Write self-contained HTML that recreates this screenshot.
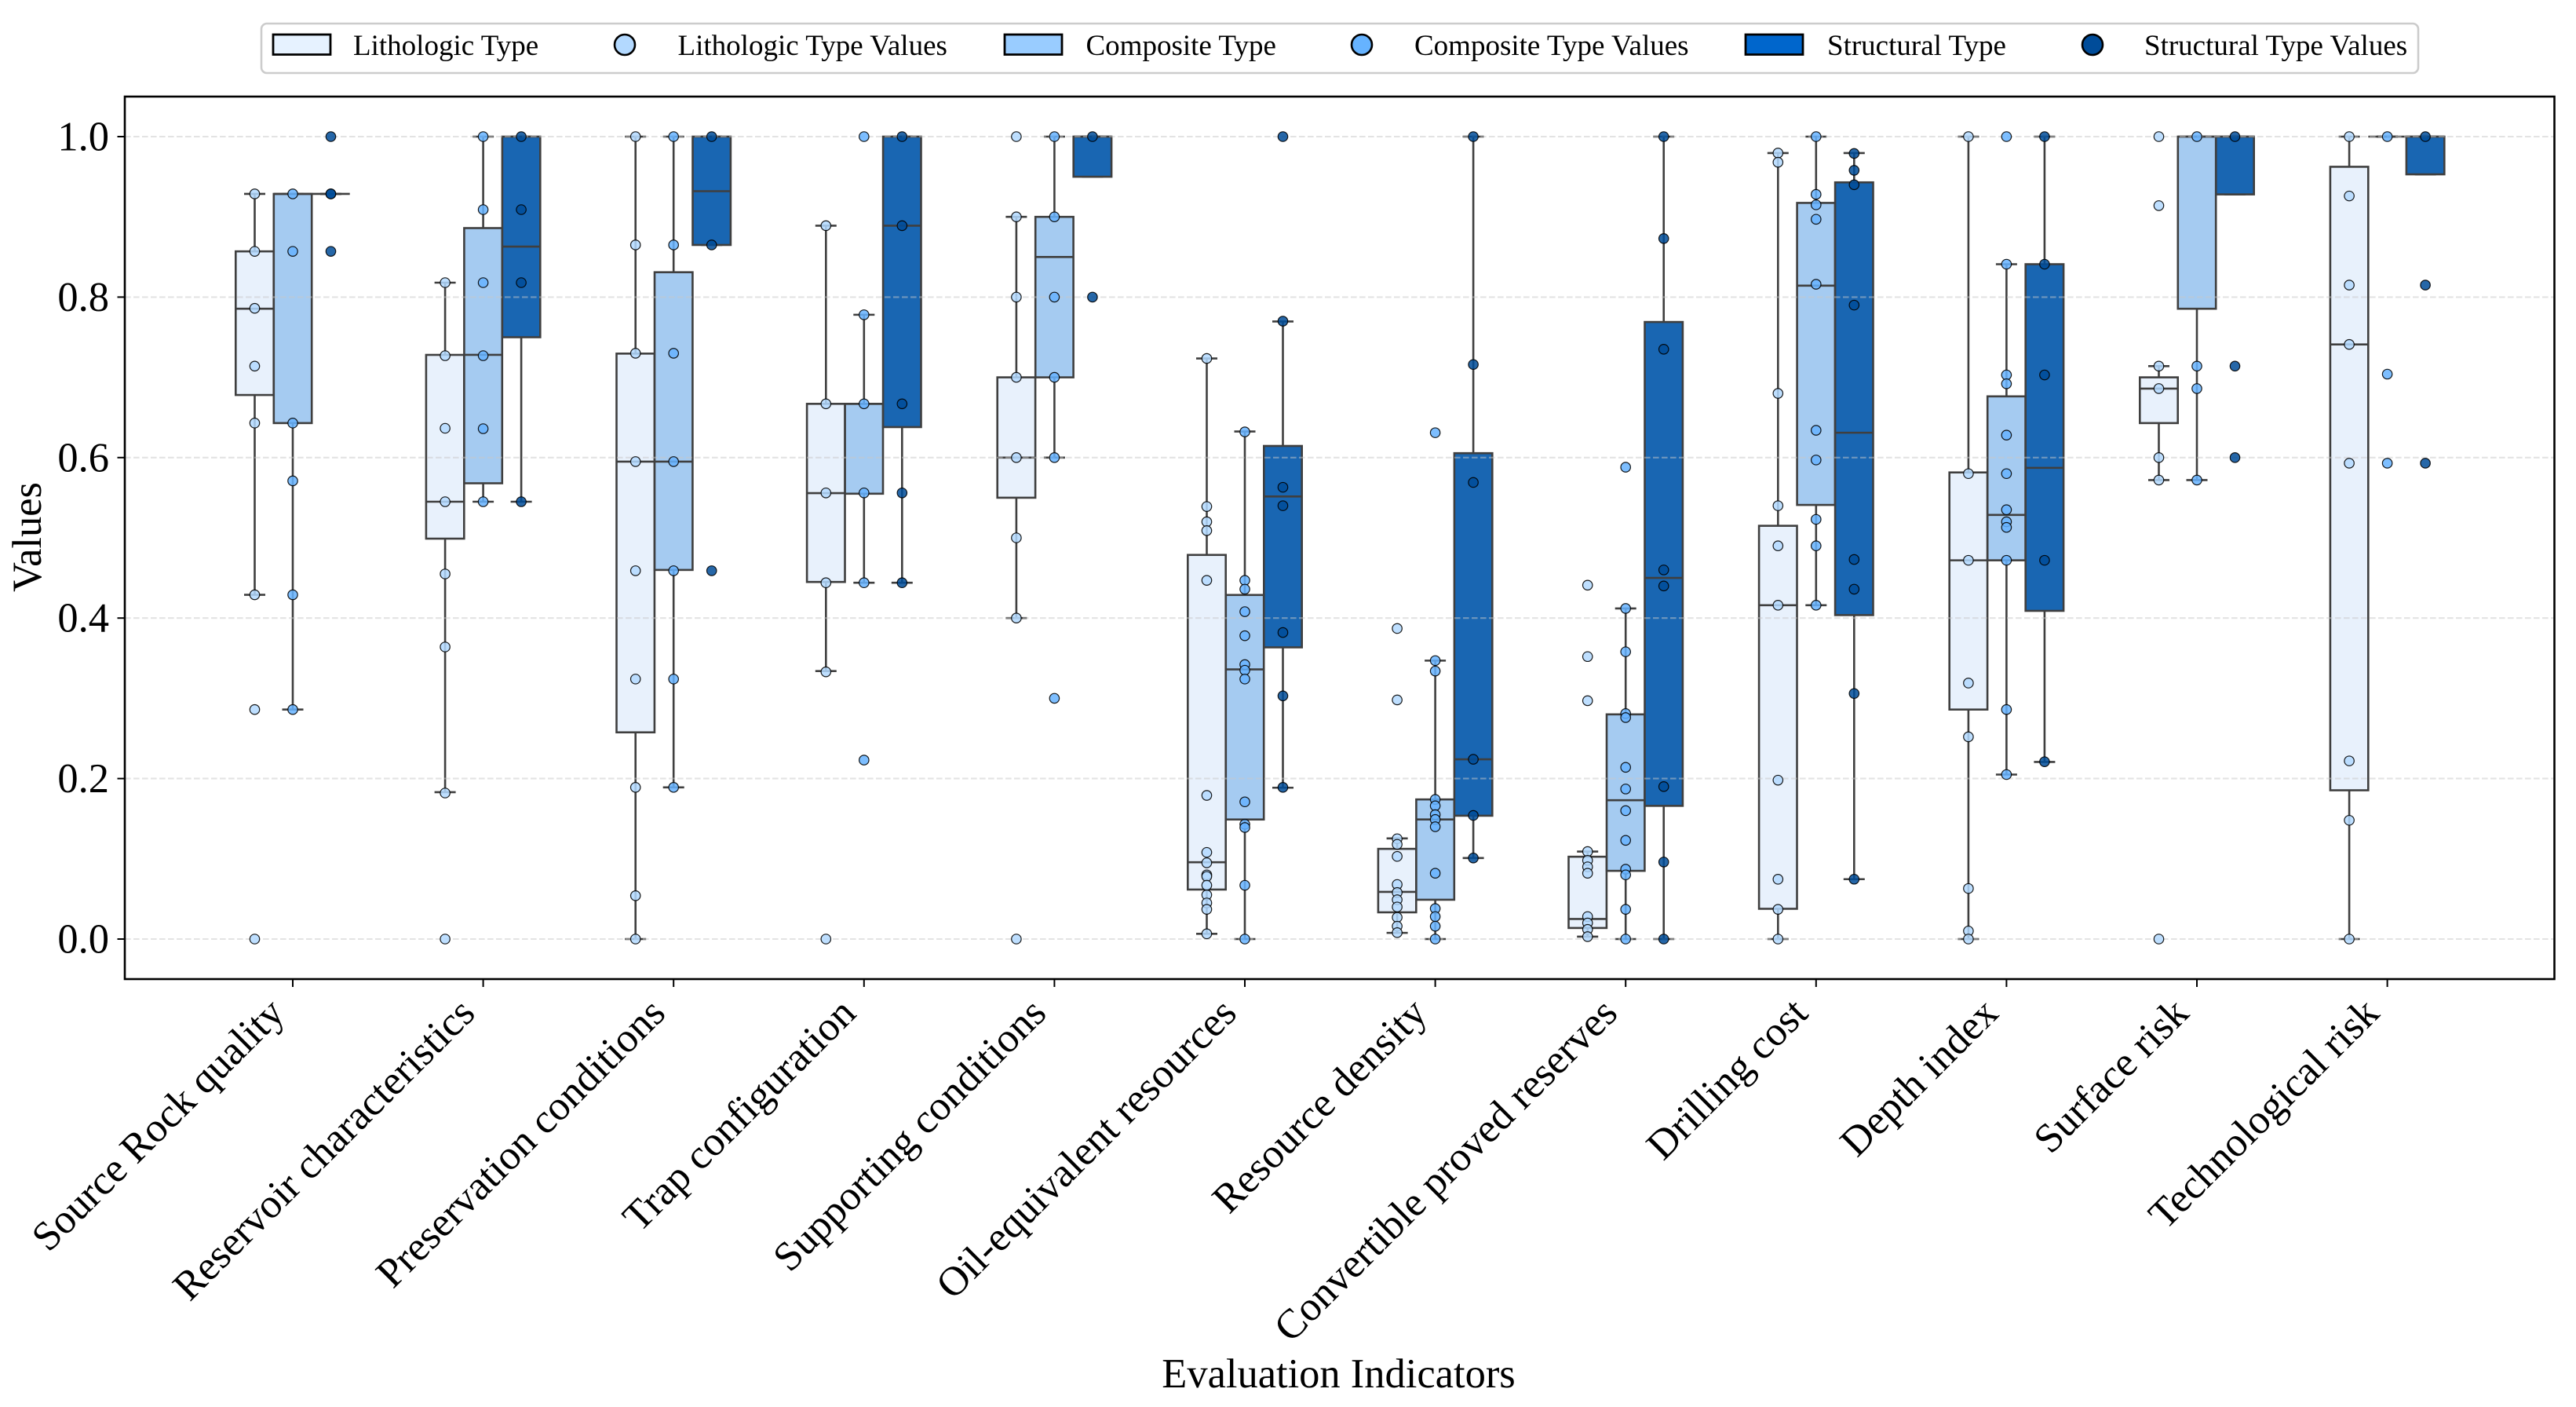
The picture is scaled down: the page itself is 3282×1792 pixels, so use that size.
<!DOCTYPE html>
<html lang="en">
<head>
<meta charset="utf-8">
<title>Evaluation indicators box plot</title>
<style>
html,body{margin:0;padding:0;background:#fff}
svg{display:block}
text{font-family:"Liberation Serif",serif;fill:#000}
</style>
</head>
<body>
<svg id="chart" xmlns="http://www.w3.org/2000/svg" width="3282" height="1792" viewBox="0 0 3282 1792">
  <rect x="0" y="0" width="3282" height="1792" fill="#fff"/>
  <g id="boxes"></g>
  <g id="gridTop"></g>
  <g id="points"></g>
  <rect x="159" y="123" width="3095.5" height="1124" fill="none" stroke="#000" stroke-width="2.6"/>
  <g id="axes"></g>
  <text x="1705.5" y="1767" font-size="52.5" text-anchor="middle">Evaluation Indicators</text>
  <text transform="translate(52 684) rotate(-90)" font-size="52.5" text-anchor="middle">Values</text>
  <g>
    <rect x="333" y="30" width="2748" height="63" rx="7" ry="7" fill="#fff" stroke="#ccc" stroke-width="2.6"/>
    <g>
      <rect x="348" y="44" width="73" height="25.5" fill="#e6f2ff" stroke="#000" stroke-width="2.8"/>
      <text x="450" y="70" font-size="37">Lithologic Type</text>
    </g>
    <g>
      <circle cx="796" cy="57" r="13" fill="#b3d9ff" stroke="#000" stroke-width="2.6"/>
      <text x="863.5" y="70" font-size="37">Lithologic Type Values</text>
    </g>
    <g>
      <rect x="1280" y="44" width="73" height="25.5" fill="#99ccff" stroke="#000" stroke-width="2.8"/>
      <text x="1383.5" y="70" font-size="37">Composite Type</text>
    </g>
    <g>
      <circle cx="1735" cy="57" r="13" fill="#66b3ff" stroke="#000" stroke-width="2.6"/>
      <text x="1802" y="70" font-size="37">Composite Type Values</text>
    </g>
    <g>
      <rect x="2224" y="44" width="73" height="25.5" fill="#0066cc" stroke="#000" stroke-width="2.8"/>
      <text x="2328" y="70" font-size="37">Structural Type</text>
    </g>
    <g>
      <circle cx="2666" cy="57" r="13" fill="#004c99" stroke="#000" stroke-width="2.6"/>
      <text x="2732" y="70" font-size="37">Structural Type Values</text>
    </g>
  </g>
</svg>
<script>
const categories = ["Source Rock quality","Reservoir characteristics","Preservation conditions","Trap configuration","Supporting conditions","Oil-equivalent resources","Resource density","Convertible proved reserves","Drilling cost","Depth index","Surface risk","Technological risk"];
const yTickValues = [0, 0.2, 0.4, 0.6, 0.8, 1.0];
const yTickLabels = ["0.0", "0.2", "0.4", "0.6", "0.8", "1.0"];

const lithoLow    = [0.429, 0.183, 0, 0.334, 0.4, 0.0065, 0.0077, 0.003, 0, 0, 0.572, 0];
const lithoQ1     = [0.678, 0.499, 0.2576, 0.445, 0.55, 0.0617, 0.0333, 0.0138, 0.0377, 0.286, 0.643, 0.1854];
const lithoMedian = [0.7855, 0.545, 0.595, 0.5557, 0.6, 0.0957, 0.0588, 0.025, 0.416, 0.472, 0.686, 0.741];
const lithoQ3     = [0.857, 0.728, 0.7296, 0.667, 0.7, 0.4787, 0.1124, 0.1026, 0.515, 0.5815, 0.7, 0.9624];
const lithoHigh   = [0.9286, 0.818, 1, 0.889, 0.9, 0.7235, 0.1254, 0.109, 0.9795, 1, 0.714, 1];
const lithoPoints = [
  [0.9286,0.857,0.786,0.714,0.643,0.429,0.286,0],
  [0.818,0.727,0.6365,0.545,0.455,0.364,0.182,0],
  [1,0.865,0.73,0.595,0.459,0.324,0.189,0.054,0],
  [0.889,0.667,0.556,0.444,0.333,0],
  [1,0.9,0.8,0.7,0.6,0.5,0.4,0],
  [0.7235,0.539,0.52,0.509,0.447,0.179,0.108,0.095,0.08,0.078,0.067,0.055,0.045,0.037,0.0065],
  [0.387,0.298,0.125,0.118,0.103,0.068,0.058,0.049,0.04,0.027,0.016,0.008],
  [0.441,0.352,0.297,0.109,0.098,0.09,0.082,0.028,0.02,0.012,0.003],
  [0.9795,0.968,0.68,0.54,0.49,0.416,0.198,0.0745,0.037,0],
  [1,0.58,0.472,0.319,0.252,0.063,0.01,0],
  [1,0.914,0.714,0.686,0.6,0.572,0],
  [1,0.926,0.815,0.741,0.593,0.222,0.148,0]
];

const compositeLow    = [0.286, 0.545, 0.189, 0.444, 0.6, 0, 0, 0, 0.416, 0.205, 0.572, 1];
const compositeQ1     = [0.643, 0.568, 0.46, 0.555, 0.7, 0.149, 0.049, 0.085, 0.541, 0.472, 0.7855, 1];
const compositeMedian = [0.9286, 0.728, 0.595, 0.667, 0.85, 0.336, 0.149, 0.173, 0.8143, 0.5286, 1, 1];
const compositeQ3     = [0.9286, 0.886, 0.831, 0.667, 0.9, 0.4288, 0.174, 0.28, 0.9174, 0.6763, 1, 1];
const compositeHigh   = [0.9286, 1, 1, 0.778, 1, 0.6325, 0.347, 0.412, 1, 0.841, 1, 1];
const compositePoints = [
  [0.9286,0.857,0.643,0.571,0.429,0.286],
  [1,0.909,0.818,0.727,0.636,0.545],
  [1,0.865,0.73,0.595,0.459,0.324,0.189],
  [1,0.778,0.667,0.556,0.444,0.223],
  [1,0.9,0.8,0.7,0.6,0.3],
  [0.632,0.447,0.436,0.408,0.378,0.342,0.335,0.324,0.171,0.143,0.139,0.067,0],
  [0.631,0.347,0.334,0.174,0.166,0.155,0.149,0.14,0.082,0.038,0.028,0.016,0],
  [0.588,0.412,0.358,0.281,0.276,0.214,0.187,0.16,0.123,0.087,0.08,0.037,0],
  [1,0.928,0.915,0.897,0.816,0.634,0.597,0.523,0.49,0.416],
  [1,0.841,0.703,0.692,0.628,0.58,0.535,0.52,0.513,0.472,0.286,0.205],
  [1,0.714,0.686,0.572],
  [1,0.704,0.593]
];

const structuralLow    = [0.9286, 0.545, 0.865, 0.444, 0.95, 0.1886, 0.101, 0, 0.0746, 0.2207, 0.928, 0.953];
const structuralQ1     = [0.9286, 0.75, 0.865, 0.638, 0.95, 0.3635, 0.1537, 0.166, 0.4037, 0.409, 0.928, 0.953];
const structuralMedian = [0.9286, 0.863, 0.932, 0.889, 1, 0.5516, 0.224, 0.45, 0.631, 0.5872, 1, 1];
const structuralQ3     = [0.9286, 1, 1, 1, 1, 0.6145, 0.6055, 0.769, 0.943, 0.841, 1, 1];
const structuralHigh   = [0.9286, 1, 1, 1, 1, 0.7696, 1, 1, 0.9795, 1, 1, 1];
const structuralPoints = [
  [1,0.9286,0.9286,0.857],
  [1,0.909,0.818,0.545],
  [1,0.865,0.459],
  [1,0.889,0.667,0.556,0.444],
  [1,0.8],
  [1,0.77,0.563,0.54,0.382,0.303,0.189],
  [1,0.716,0.569,0.224,0.154,0.101],
  [1,0.873,0.735,0.46,0.44,0.19,0.096,0],
  [0.979,0.958,0.94,0.79,0.473,0.436,0.306,0.0746],
  [1,0.841,0.703,0.472,0.221],
  [1,0.714,0.6],
  [1,0.815,0.593]
];

const seriesList = [
  {key:"lithologic", low:lithoLow, q1:lithoQ1, med:lithoMedian, q3:lithoQ3, high:lithoHigh, pts:lithoPoints, box:"#e8f1fc", dot:"#b3d9ff"},
  {key:"composite", low:compositeLow, q1:compositeQ1, med:compositeMedian, q3:compositeQ3, high:compositeHigh, pts:compositePoints, box:"#a5cbf1", dot:"#66b3ff"},
  {key:"structural", low:structuralLow, q1:structuralQ1, med:structuralMedian, q3:structuralQ3, high:structuralHigh, pts:structuralPoints, box:"#1966b2", dot:"#004c99"}
];

const NS = "http://www.w3.org/2000/svg";
const xBase = 373, xStep = 242.6, dodge = 48.5, boxHalf = 24.2, capHalf = 13.5;
const yZero = 1196, yScale = 1022, plotLeft = 159, plotRight = 3254.5, plotBottom = 1247;
function xAxis(i, s) { return xBase + xStep * i + dodge * (s - 1); }
function yAxis(v) { return yZero - yScale * v; }
function mk(tag, attrs, parent) {
  const el = document.createElementNS(NS, tag);
  for (const k in attrs) el.setAttribute(k, attrs[k]);
  parent.appendChild(el);
  return el;
}

const gridTopG = document.getElementById("gridTop");
const boxesG = document.getElementById("boxes");
const pointsG = document.getElementById("points");
const axesG = document.getElementById("axes");

yTickValues.forEach(function (v, i) {
  const y = yAxis(v);
  const line = mk("line", {x1: plotLeft, x2: plotRight, y1: y, y2: y, stroke: "#c8c8c8", "stroke-opacity": 0.5, "stroke-width": 2.1, "stroke-dasharray": "7.6 3.4"}, gridTopG);
  
  
  const tick = mk("line", {x1: plotLeft - 9.5, x2: plotLeft, y1: y, y2: y, stroke: "#000", "stroke-width": 2}, axesG);
  
  
  const label = mk("text", {x: 139, y: y + 17.5, "font-size": 52.5, "text-anchor": "end"}, axesG);
  label.textContent = yTickLabels[i];
  
  
});

categories.forEach(function (name, i) {
  const x = xAxis(i, 1);
  const tick = mk("line", {x1: x, x2: x, y1: plotBottom, y2: plotBottom + 10, stroke: "#000", "stroke-width": 2}, axesG);
  
  
  const label = mk("text", {transform: "translate(" + (x - 8) + " 1293) rotate(-45)", "font-size": 52.5, "text-anchor": "end"}, axesG);
  label.textContent = name;
  
  
});

seriesList.forEach(function (s, sIdx) {
  categories.forEach(function (name, i) {
    const cx = xAxis(i, sIdx);
    const stroke = "#3f3f3f";
    const lowWhisker = mk("line", {x1: cx, x2: cx, y1: yAxis(s.q1[i]), y2: yAxis(s.low[i]), stroke: stroke, "stroke-width": 2.6}, boxesG);
    
    
    const highWhisker = mk("line", {x1: cx, x2: cx, y1: yAxis(s.q3[i]), y2: yAxis(s.high[i]), stroke: stroke, "stroke-width": 2.6}, boxesG);
    
    
    const lowCap = mk("line", {x1: cx - capHalf, x2: cx + capHalf, y1: yAxis(s.low[i]), y2: yAxis(s.low[i]), stroke: stroke, "stroke-width": 2.6}, boxesG);
    
    
    const highCap = mk("line", {x1: cx - capHalf, x2: cx + capHalf, y1: yAxis(s.high[i]), y2: yAxis(s.high[i]), stroke: stroke, "stroke-width": 2.6}, boxesG);
    
    
    const top = yAxis(s.q3[i]);
    const rect = mk("rect", {x: cx - boxHalf, y: top, width: boxHalf * 2, height: yAxis(s.q1[i]) - top, fill: s.box, stroke: stroke, "stroke-width": 2.6}, boxesG);
    
    
    const median = mk("line", {x1: cx - boxHalf, x2: cx + boxHalf, y1: yAxis(s.med[i]), y2: yAxis(s.med[i]), stroke: stroke, "stroke-width": 2.6}, boxesG);
    
    
    s.pts[i].forEach(function (v) {
      const dot = mk("circle", {cx: cx, cy: yAxis(v), r: 6.2, fill: s.dot, "fill-opacity": 0.85, stroke: "#000", "stroke-opacity": 0.9, "stroke-width": 1.2}, pointsG);
      
      
    });
  });
});
</script>
</body>
</html>
